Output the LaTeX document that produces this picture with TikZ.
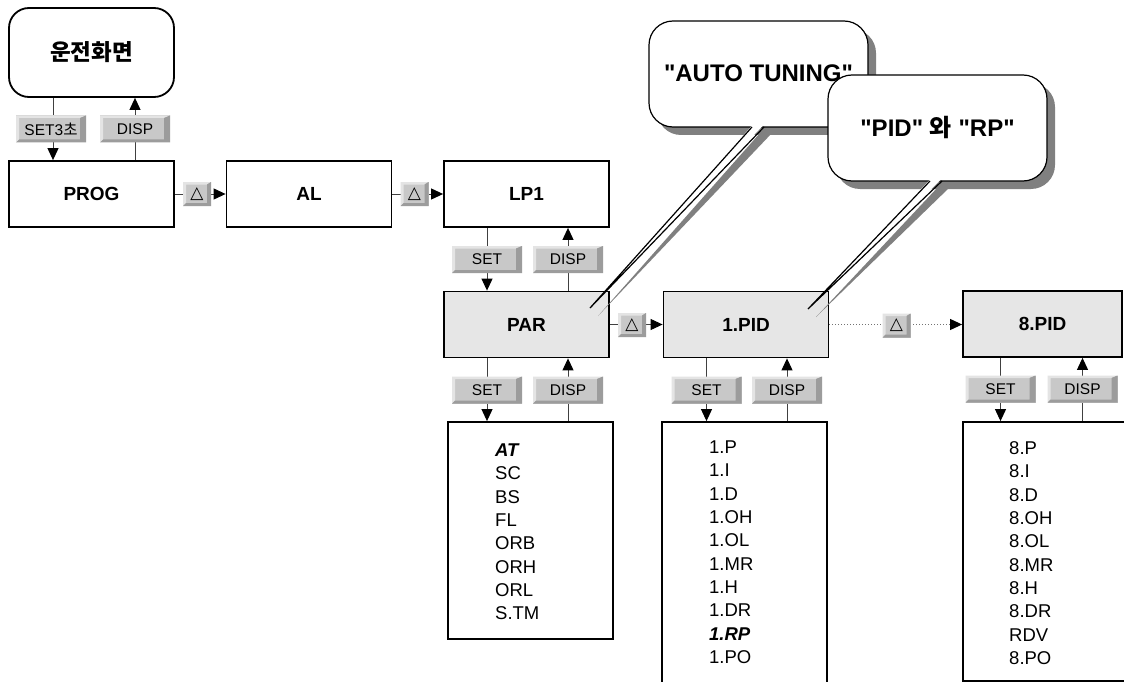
\documentclass[tikz,border=0pt]{standalone}
\usepackage{fontspec}
\setmainfont{Liberation Sans}
\newfontfamily\kr{Noto Sans CJK KR}
\newfontfamily\dv{DejaVu Sans}
\usetikzlibrary{arrows.meta}
\pgfdeclarelayer{bg}
\pgfsetlayers{bg,main}
\definecolor{boxgray}{HTML}{E6E6E6}
\definecolor{shadowgray}{HTML}{808080}
\definecolor{btnface}{HTML}{C8C8C8}
\definecolor{btnlight}{HTML}{E4E4E4}
\definecolor{btndark}{HTML}{9C9C9C}
\tikzset{
  box/.style={draw=black, line width=1.8pt, fill=white, minimum width=165pt, minimum height=66pt,
    inner sep=0pt, font=\fontsize{19}{21}\selectfont\bfseries},
  gbox/.style={box, fill=boxgray},
  listbox/.style={draw=black, line width=1.8pt, fill=white, inner sep=0pt, minimum width=165pt},
  conn/.style={draw=black!75, line width=1pt},
  arr/.style={conn, -{Triangle[width=11pt,length=12pt,color=black]}},
  dotarr/.style={draw=black!55, line width=1pt, dotted, -{Triangle[width=11pt,length=12pt,color=black]}},
  bevel/.style={path picture={
    \fill[btnlight] (path picture bounding box.north west) -- (path picture bounding box.north east)
      -- ([xshift=-#1,yshift=-2.5pt]path picture bounding box.north east)
      -- ([xshift=3pt,yshift=-2.5pt]path picture bounding box.north west)
      -- ([xshift=3pt,yshift=3pt]path picture bounding box.south west)
      -- (path picture bounding box.south west) -- cycle;
    \fill[btndark] (path picture bounding box.south east) -- (path picture bounding box.north east)
      -- ([xshift=-#1,yshift=-2.5pt]path picture bounding box.north east)
      -- ([xshift=-#1,yshift=3pt]path picture bounding box.south east)
      -- ([xshift=3pt,yshift=3pt]path picture bounding box.south west)
      -- (path picture bounding box.south west) -- cycle;}},
  btn/.style={fill=btnface, bevel=6pt, minimum width=70pt, minimum height=27pt, inner sep=0pt,
    font=\fontsize{15.5}{17}\selectfont},
  tbtn/.style={fill=btnface, bevel=4pt, minimum width=28pt, minimum height=24pt, inner sep=0pt,
    font=\dv\fontsize{17}{17}\selectfont},
  item/.style={anchor=base west, inner sep=0pt, font=\fontsize{18.5}{20}\selectfont},
  callout/.style={draw=black, line width=1.2pt, fill=white},
  calltext/.style={inner sep=0pt, font=\fontsize{24}{26}\selectfont\bfseries},
}
\begin{document}
\begin{tikzpicture}[x=1pt,y=-1pt]
\begin{pgfonlayer}{bg}
\fill[white] (0,0) rectangle (1124,682);
\end{pgfonlayer}
\useasboundingbox (0,0) rectangle (1124,682);

% main boxes
\node[box, rounded corners=20pt, minimum height=89pt, font=\kr\bfseries\fontsize{22.5}{24}\selectfont] (run) at (91.5,52.5) {운전화면};
\node[box] (prog) at (91.5,194) {PROG};
\node[box] (al) at (309,194) {AL};
\node[box] (lp1) at (526.5,194) {LP1};
\node[gbox] (par) at (526.5,324.5) {PAR};
\node[gbox] (pid1) at (746,324.5) {1.PID};
\node[gbox, minimum width=159pt] (pid8) at (1042.5,324) {8.PID};

% list boxes
\node[listbox, minimum height=217pt] (parl) at (530.5,530.5) {};
\node[listbox, minimum height=280pt] (pid1l) at (744.5,562) {};
\node[listbox, minimum height=259pt] (pid8l) at (1045.5,551.5) {};

\foreach \t [count=\i] in {{\bfseries\itshape AT},SC,BS,FL,ORB,ORH,ORL,S.TM}
  \node[item] (pa\i) at (495,{456.6+23.3*(\i-1)}) {\t};
\foreach \t [count=\i] in {1.P,1.I,1.D,1.OH,1.OL,1.MR,1.H,1.DR,{\bfseries\itshape 1.RP},1.PO}
  \node[item] (pi\i) at (709,{453.6+23.3*(\i-1)}) {\t};
\foreach \t [count=\i] in {8.P,8.I,8.D,8.OH,8.OL,8.MR,8.H,8.DR,RDV,8.PO}
  \node[item] (pe\i) at (1009,{454.6+23.3*(\i-1)}) {\t};

% buttons
\node[btn] (b0s) at (51,129) {SET3{\kr 초}};
\node[btn] (b0d) at (135,129) {DISP};
\node[tbtn] (t1) at (197,194) {△};
\node[tbtn] (t2) at (414.5,194) {△};
\node[btn] (b1s) at (487,259.5) {SET};
\node[btn] (b1d) at (568,259.5) {DISP};
\node[tbtn] (t3) at (632,325) {△};
\node[btn] (b2s) at (487,390) {SET};
\node[btn] (b2d) at (568,390) {DISP};
\node[btn] (b3s) at (706.5,390) {SET};
\node[btn] (b3d) at (787,390) {DISP};
\node[tbtn] (t4) at (896.5,325.5) {△};
\node[btn] (b4s) at (1000.5,389) {SET};
\node[btn] (b4d) at (1082.5,389) {DISP};

% connectors (behind buttons)
\begin{pgfonlayer}{bg}
\draw[arr] ([xshift=2pt]run.south -| b0s) -- ([xshift=2pt]prog.north -| b0s);
\draw[arr] (prog.north -| b0d) -- (run.south -| b0d);
\draw[arr] (prog.east) -- (al.west);
\draw[arr] (al.east) -- (lp1.west);
\draw[arr] (lp1.south -| b1s) -- (par.north -| b1s);
\draw[arr] (par.north -| b1d) -- (lp1.south -| b1d);
\draw[arr] (par.east) -- (pid1.west);
\draw[arr] (par.south -| b2s) -- (parl.north -| b2s);
\draw[arr] (parl.north -| b2d) -- (par.south -| b2d);
\draw[arr] (pid1.south -| b3s) -- (pid1l.north -| b3s);
\draw[arr] (pid1l.north -| b3d) -- (pid1.south -| b3d);
\draw[dotarr] (pid1.east) -- (pid1.east -| pid8.west);
\draw[arr] (pid8.south -| b4s) -- (pid8l.north -| b4s);
\draw[arr] (pid8l.north -| b4d) -- (pid8.south -| b4d);
\end{pgfonlayer}

% callout AUTO TUNING
\fill[shadowgray, rounded corners=24pt] (657,29) rectangle (876,135);
\fill[shadowgray] (760,133) -- (598,316) -- (772,133) -- cycle;
\draw[callout, rounded corners=24pt] (649,21) rectangle (868,127);
\fill[white] (752.5,125) -- (590,308) -- (763.5,125) -- cycle;
\draw[line width=1.2pt] (752,127) -- (590,308) -- (764,127);
\node[calltext] (autot) at (758.5,73) {\textquotedbl AUTO TUNING\textquotedbl};

% callout PID / RP
\fill[shadowgray, rounded corners=24pt] (836,83) rectangle (1055,189);
\fill[shadowgray] (938,187) -- (816,317) -- (950,187) -- cycle;
\draw[callout, rounded corners=24pt] (828,75) rectangle (1047,181);
\fill[white] (930.5,179) -- (808,309) -- (941.5,179) -- cycle;
\draw[line width=1.2pt] (930,181) -- (808,309) -- (942,181);
\node[calltext] (pidrp) at (937.5,127) {\textquotedbl PID\textquotedbl{} {\kr\bfseries 와} \textquotedbl RP\textquotedbl};
\end{tikzpicture}
\end{document}
